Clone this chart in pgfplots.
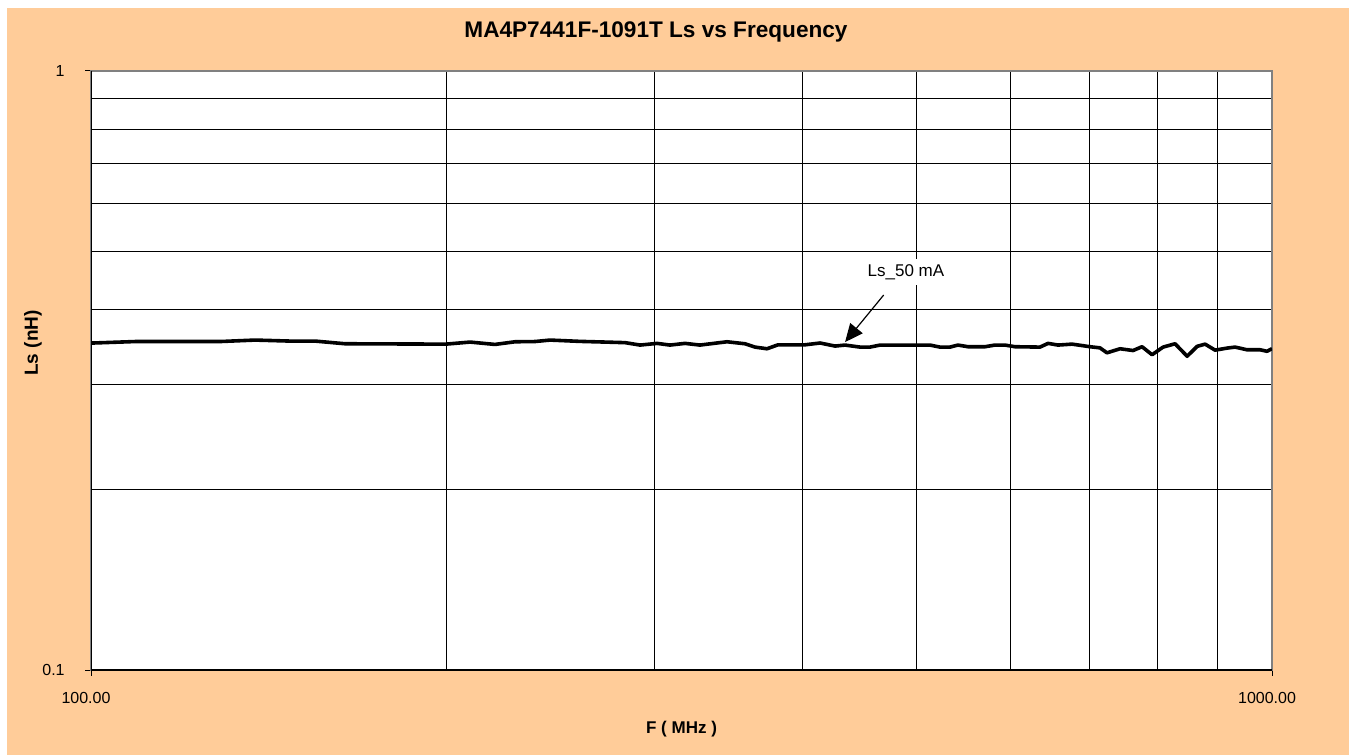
\documentclass[border=0pt]{standalone}
\usepackage{fontspec}
\setmainfont{Liberation Sans}
\usepackage{pgfplots}
\pgfplotsset{compat=1.18}
\usepackage{pgfplotstable}
\usetikzlibrary{arrows.meta}

\definecolor{chartbg}{HTML}{FFCC99}
\definecolor{framegray}{HTML}{808080}

% Ls at 50 mA, F in MHz, Ls in nH
\pgfplotstableread{
f      ls
100.0  0.3514
109.0  0.3535
128.6  0.3535
137.7  0.3555
147.4  0.3541
154.8  0.3541
164.1  0.3505
199.8  0.3500
209.4  0.3528
219.8  0.3496
228.6  0.3532
237.6  0.3535
244.7  0.3555
259.5  0.3537
272.4  0.3528
283.3  0.3520
291.7  0.3487
301.5  0.3510
309.2  0.3487
318.4  0.3510
327.8  0.3487
345.6  0.3532
357.9  0.3505
365.0  0.3460
373.6  0.3438
381.7  0.3491
402.3  0.3491
414.3  0.3515
426.6  0.3474
435.0  0.3487
447.9  0.3460
456.7  0.3460
465.7  0.3487
498.5  0.3487
513.3  0.3487
523.4  0.3460
533.7  0.3460
542.1  0.3487
552.8  0.3465
571.4  0.3465
582.7  0.3487
594.1  0.3487
605.9  0.3465
636.1  0.3460
646.2  0.3510
659.0  0.3487
677.1  0.3500
701.4  0.3465
715.1  0.3450
724.9  0.3385
743.6  0.3438
762.7  0.3415
776.2  0.3465
791.5  0.3360
808.6  0.3460
827.8  0.3505
847.5  0.3340
864.1  0.3470
877.7  0.3500
895.0  0.3420
916.1  0.3447
930.5  0.3460
952.4  0.3425
976.9  0.3425
990.3  0.3405
1000.0 0.3440
}\lsdata

\begin{document}
\begin{tikzpicture}
\fill[white] (0,0) rectangle (674.5pt,377.5pt);
\fill[chartbg] (3.5pt,0) rectangle (674.5pt,373.5pt);
\begin{axis}[
    at={(45.5pt,42.5pt)}, anchor=south west,
    width=590.5pt, height=299.5pt, scale only axis,
    xmode=log, ymode=log,
    xmin=100, xmax=1000, ymin=0.1, ymax=1,
    axis background/.style={fill=white},
    axis line style={draw=framegray, line width=1pt},
    xtick={100,1000}, xticklabels={100.00,1000.00},
    ytick={0.1,1}, yticklabels={0.1,1},
    minor xtick={200,300,400,500,600,700,800,900},
    minor ytick={0.2,0.3,0.4,0.5,0.6,0.7,0.8,0.9},
    xtick pos=bottom, ytick pos=left,
    tick align=outside, major tick length=3pt, minor tick length=0pt,
    tick style={black, line width=0.5pt},
    grid=both,
    major grid style={black, line width=0.5pt},
    minor grid style={black, line width=0.5pt},
    /pgf/number format/assume math mode=true,
    tick label style={font=\fontsize{8}{9}\selectfont},
    xticklabel style={anchor=center, yshift=-11pt, xshift=-2.5pt},
    yticklabel style={anchor=east, inner sep=0pt, xshift=-10pt},
    title={\textbf{MA4P7441F-1091T Ls vs Frequency}},
    title style={at={(axis description cs:0.4784,1.045)}, anchor=center,
                 yshift=0pt, font=\fontsize{11.3}{13}\selectfont},
    xlabel={\textbf{F ( MHz )}},
    xlabel style={at={(axis description cs:0.5,-0.0985)}, anchor=center,
                  font=\fontsize{8.5}{10}\selectfont},
    ylabel={\textbf{Ls (nH)}},
    ylabel style={at={(axis description cs:-0.0491,0.546)}, anchor=center,
                  font=\fontsize{9.5}{11}\selectfont},
]
\addplot[black, line width=1.8pt, line join=round] table[x=f, y=ls] {\lsdata};
\draw[black, line width=0.6pt] (rel axis cs:0,1) -- (rel axis cs:0,0) -- (rel axis cs:1,0);
\node[fill=white, inner sep=2.5pt, font=\fontsize{8.5}{10}\selectfont]
    at (axis cs:489.8,0.4618) {Ls\_50 mA};
\draw[-{Triangle[length=9pt,width=8pt]}, black, line width=0.6pt]
    (axis cs:469,0.4227) -- (axis cs:435,0.3528);
\end{axis}
\end{tikzpicture}
\end{document}
